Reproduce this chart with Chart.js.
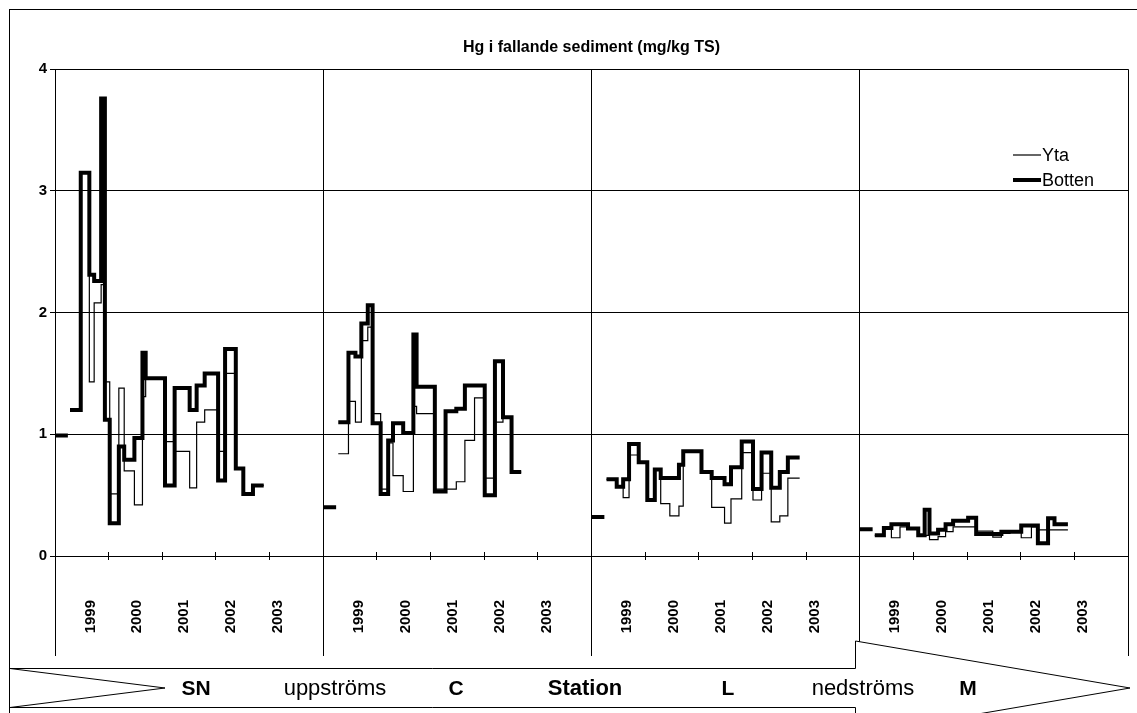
<!DOCTYPE html>
<html>
<head>
<meta charset="utf-8">
<title>Hg i fallande sediment</title>
<script src="https://cdn.jsdelivr.net/npm/chart.js@4.4.1/dist/chart.umd.min.js"></script>
<style>
    html, body { margin: 0; padding: 0; background: #fff; }
    #wrap { width: 1137px; height: 713px; }
</style>
</head>
<body>
<div id="wrap"><canvas id="hgChart" width="1137" height="713"></canvas></div>
<script>
// Stations along the river, upstream -> downstream
const stations = ["SN", "C", "L", "M"];
const years = ["1999", "2000", "2001", "2002", "2003"];

// Start of each sampling period, in years after 1 Jan 1999 (last entry = end of last period)
const snTimes = [0.28, 0.48, 0.64, 0.73, 0.86, 0.93, 1.02, 1.19, 1.29, 1.48, 1.63, 1.69, 2.05, 2.23, 2.51, 2.64, 2.79, 3.04, 3.17, 3.37, 3.51, 3.69, 3.89];
const snYta = [1.20, 3.15, 1.43, 2.08, 2.23, 1.43, 0.51, 1.38, 0.70, 0.42, 1.31, 1.46, 0.94, 0.86, 0.56, 1.10, 1.20, 0.86, 1.50, 0.72, 0.51, 0.58];
const snBotten = [1.20, 3.15, 2.31, 2.26, 3.76, 1.12, 0.27, 0.90, 0.79, 0.97, 1.67, 1.46, 0.58, 1.38, 1.20, 1.40, 1.50, 0.62, 1.70, 0.72, 0.51, 0.58];

const cTimes = [0.28, 0.47, 0.60, 0.71, 0.83, 0.92, 1.07, 1.21, 1.30, 1.49, 1.68, 1.74, 2.08, 2.28, 2.48, 2.64, 2.82, 3.01, 3.20, 3.35, 3.51, 3.69];
const cYta = [0.84, 1.27, 1.10, 1.77, 1.88, 1.17, 0.55, 0.93, 0.66, 0.53, 1.23, 1.17, 0.55, 0.55, 0.61, 0.95, 1.30, 0.64, 1.10, 1.14, 0.69];
const cBotten = [1.10, 1.67, 1.64, 1.91, 2.06, 1.09, 0.51, 0.95, 1.09, 1.01, 1.82, 1.39, 0.53, 1.19, 1.21, 1.40, 1.40, 0.50, 1.60, 1.14, 0.69];

const lTimes = [0.28, 0.47, 0.59, 0.70, 0.88, 1.04, 1.18, 1.29, 1.46, 1.63, 1.71, 2.05, 2.24, 2.48, 2.60, 2.80, 3.01, 3.17, 3.35, 3.51, 3.66, 3.88];
const lYta = [0.63, 0.57, 0.48, 0.83, 0.77, 0.46, 0.71, 0.43, 0.33, 0.41, 0.86, 0.69, 0.40, 0.27, 0.47, 0.85, 0.46, 0.68, 0.28, 0.33, 0.64];
const lBotten = [0.63, 0.57, 0.63, 0.92, 0.77, 0.46, 0.71, 0.64, 0.64, 0.75, 0.86, 0.69, 0.64, 0.59, 0.73, 0.94, 0.55, 0.85, 0.56, 0.69, 0.81];

const mTimes = [0.28, 0.45, 0.59, 0.75, 0.90, 1.09, 1.21, 1.30, 1.46, 1.60, 1.74, 2.02, 2.17, 2.48, 2.64, 2.80, 3.01, 3.20, 3.32, 3.51, 3.63, 3.88];
const mYta = [0.17, 0.23, 0.15, 0.24, 0.225, 0.17, 0.17, 0.135, 0.16, 0.20, 0.24, 0.24, 0.205, 0.155, 0.185, 0.20, 0.15, 0.24, 0.215, 0.215, 0.215];
const mBotten = [0.17, 0.23, 0.26, 0.26, 0.225, 0.17, 0.38, 0.185, 0.215, 0.26, 0.29, 0.315, 0.18, 0.18, 0.20, 0.20, 0.25, 0.25, 0.105, 0.31, 0.26];

// Short earlier Botten sample drawn at the start of each station
const earlyTimes = [0.0, 0.24];
const earlyBotten = [0.99, 0.40, 0.32, 0.22];

// Words written in the flow arrow
const arrowWords = ["SN", "uppströms", "C", "Station", "L", "nedströms", "M"];

const FONT = "'Liberation Sans', Arial, sans-serif";
const PANEL = years.length; // x units per station

// Turn period starts + values into step points for one station panel
// (stepped "after": each point carries the value of the period that ends there)
function stepPoints(panel, times, values) {
    const pts = [{ x: panel * PANEL + times[0], y: values[0] }];
    values.forEach((v, i) => pts.push({ x: panel * PANEL + times[i + 1], y: v }));
    pts.push({ x: panel * PANEL + times[times.length - 1], y: null }); // break before next station
    return pts;
}

const allTimes = [snTimes, cTimes, lTimes, mTimes];
const allYta = [snYta, cYta, lYta, mYta];
const allBotten = [snBotten, cBotten, lBotten, mBotten];

const ytaData = [];
const bottenData = [];
stations.forEach((s, p) => {
    ytaData.push(...stepPoints(p, allTimes[p], allYta[p]));
    bottenData.push(...stepPoints(p, earlyTimes, [earlyBotten[p]]));
    bottenData.push(...stepPoints(p, allTimes[p], allBotten[p]));
});

// Legend drawn inside the plot, top right
const insideLegend = {
    id: "insideLegend",
    afterDatasetsDraw(chart) {
        const ctx = chart.ctx;
        ctx.save();
        ctx.font = "18px " + FONT;
        ctx.fillStyle = "#000";
        ctx.textBaseline = "middle";
        chart.data.datasets.forEach((ds, i) => {
            const y = 155 + i * 25;
            ctx.beginPath();
            ctx.strokeStyle = "#000";
            ctx.lineWidth = ds.borderWidth;
            ctx.moveTo(1013, y);
            ctx.lineTo(1041, y);
            ctx.stroke();
            ctx.fillText(ds.label, 1042, y + 1);
        });
        ctx.restore();
    },
};

// Page frame and the upstream -> downstream arrow
const frameAndArrow = {
    id: "frameAndArrow",
    beforeDraw(chart) {
        const ctx = chart.ctx;
        ctx.save();
        ctx.fillStyle = "#fff";
        ctx.fillRect(0, 0, chart.width, chart.height);
        ctx.restore();
    },
    afterDraw(chart) {
        const ctx = chart.ctx;
        ctx.save();
        ctx.strokeStyle = "#000";
        ctx.lineWidth = 1;
        ctx.strokeRect(9.5, 9.5, 1300, 900);

        ctx.beginPath();
        ctx.moveTo(10, 668.5);
        ctx.lineTo(855.5, 668.5);
        ctx.lineTo(855.5, 641);
        ctx.lineTo(1130, 688);
        ctx.lineTo(855.5, 735);
        ctx.lineTo(855.5, 707.5);
        ctx.lineTo(10, 707.5);
        ctx.lineTo(165, 688);
        ctx.closePath();
        ctx.fillStyle = "#fff";
        ctx.fill();
        ctx.stroke();

        const xs = [196, 335, 456, 585, 728, 863, 968];
        ctx.fillStyle = "#000";
        ctx.textAlign = "center";
        ctx.textBaseline = "middle";
        arrowWords.forEach((w, i) => {
            const isStation = stations.includes(w);
            const bold = isStation || w === "Station";
            ctx.font = (bold ? "bold " : "") + (isStation ? 21 : 22) + "px " + FONT;
            ctx.fillText(w, xs[i], 689);
        });
        ctx.restore();
    },
};

new Chart(document.getElementById("hgChart"), {
    type: "line",
    data: {
        datasets: [
            {
                label: "Yta",
                data: ytaData,
                borderColor: "#000",
                borderWidth: 1.2,
                stepped: "after",
                pointRadius: 0,
                spanGaps: false,
                borderCapStyle: "butt",
                borderJoinStyle: "miter",
            },
            {
                label: "Botten",
                data: bottenData,
                borderColor: "#000",
                borderWidth: 4,
                stepped: "after",
                pointRadius: 0,
                spanGaps: false,
                borderCapStyle: "butt",
                borderJoinStyle: "miter",
            },
        ],
    },
    options: {
        responsive: false,
        animation: false,
        devicePixelRatio: 1,
        layout: { padding: { top: 10, left: 10, right: 9, bottom: 57 } },
        plugins: {
            legend: { display: false },
            tooltip: { enabled: false },
            title: {
                display: true,
                text: "Hg i fallande sediment (mg/kg TS)",
                color: "#000",
                fullSize: false,
                font: { family: FONT, size: 16, weight: "bold" },
                padding: { top: 28, bottom: 12 },
            },
        },
        scales: {
            x: {
                type: "linear",
                min: 0,
                max: stations.length * PANEL,
                afterBuildTicks: (axis) => {
                    const ticks = [];
                    stations.forEach((s, p) => {
                        ticks.push({ value: p * PANEL });
                        years.forEach((y, k) => ticks.push({ value: p * PANEL + 0.66 + k * 0.875 }));
                    });
                    ticks.push({ value: stations.length * PANEL });
                    axis.ticks = ticks;
                },
                afterFit: (axis) => { axis.height = 100; },
                ticks: {
                    autoSkip: false,
                    minRotation: 90,
                    maxRotation: 90,
                    padding: -56,
                    color: "#000",
                    font: { family: FONT, size: 15, weight: "bold" },
                    callback: (value, index) => {
                        const k = index % (years.length + 1);
                        return k === 0 ? "" : years[k - 1];
                    },
                },
                grid: {
                    color: (c) => (c.index % (years.length + 1) === 0 ? "#000" : "rgba(0,0,0,0)"),
                    tickColor: (c) => (c.index % (years.length + 1) === 0 ? "#000" : "rgba(0,0,0,0)"),
                    tickLength: 100,
                    lineWidth: 1,
                },
                border: { color: "#000", width: 1 },
            },
            xYears: {
                type: "linear",
                axis: "x",
                position: { y: 0.035 },
                min: 0,
                max: stations.length * PANEL,
                afterBuildTicks: (axis) => {
                    axis.ticks = [];
                    for (let i = 0; i <= stations.length * PANEL; i++) axis.ticks.push({ value: i });
                },
                ticks: { display: false },
                grid: { drawOnChartArea: false, tickLength: 8, tickColor: "#000" },
                border: { display: false },
            },
            y: {
                min: 0,
                max: 4,
                afterFit: (axis) => { axis.width = 45; },
                ticks: {
                    stepSize: 1,
                    padding: 3,
                    color: "#000",
                    font: { family: FONT, size: 15, weight: "bold" },
                },
                grid: { color: "#000", lineWidth: 1, tickLength: 5, tickColor: "#000" },
                border: { color: "#000", width: 1 },
            },
        },
    },
    plugins: [frameAndArrow, insideLegend],
});
</script>
</body>
</html>
